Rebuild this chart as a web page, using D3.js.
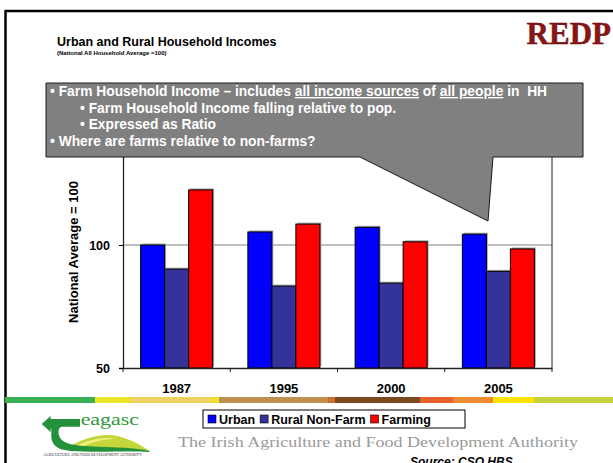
<!DOCTYPE html>
<html><head><meta charset="utf-8">
<script src="https://cdn.jsdelivr.net/npm/d3@7"></script>
<style>
html,body{margin:0;padding:0;background:#fff;overflow:hidden}
svg{display:block}
</style></head><body>
<svg id="chart" width="613" height="463"></svg>
<script>
// ── Datos ──
const categories   = ["1987", "1995", "2000", "2005"];
const seriesNames  = ["Urban", "Rural Non-Farm", "Farming"];
const urban        = [100, 105.3, 107.2, 104.4];
const ruralNonFarm = [90.2, 83.3, 84.5, 89.3];
const farming      = [122.4, 108.5, 101.3, 98.4];
const yTicks       = [50, 100];
const seriesColors = ["#0000ff", "#333399", "#ff0000"];

const SANS = "'Liberation Sans', Arial, sans-serif";
const SERIF = "'Liberation Serif', 'Times New Roman', serif";

const svg = d3.select("#chart");

// ── Marco de la diapositiva ──
svg.append("line").attr("x1", 5).attr("y1", 11).attr("x2", 613).attr("y2", 11)
  .attr("stroke", "#000").attr("stroke-width", 2.5);
svg.append("line").attr("x1", 5.5).attr("y1", 10).attr("x2", 5.5).attr("y2", 463)
  .attr("stroke", "#000").attr("stroke-width", 2.5);

// logo REDP
svg.append("text").attr("x", 611).attr("y", 44).attr("text-anchor", "end")
  .attr("font-family", SERIF).attr("font-size", 31).attr("font-weight", "bold")
  .attr("fill", "#8b1515").attr("stroke", "#5a0a0a").attr("stroke-width", 0.4)
  .text("REDP");

// títulos
svg.append("text").attr("x", 57).attr("y", 46)
  .attr("font-family", SANS).attr("font-size", 12.5).attr("font-weight", "bold")
  .text("Urban and Rural Household Incomes");
svg.append("text").attr("x", 57).attr("y", 54.5)
  .attr("font-family", SANS).attr("font-size", 6).attr("font-weight", "bold")
  .text("(National All Household Average =100)");

// ── Escalas ──
const plot = { left: 123, right: 552, top: 122, bottom: 368 };
const x = d3.scaleBand().domain(categories).range([plot.left, plot.right]);
const xs = d3.scaleBand().domain(seriesNames).range([0, x.bandwidth()]).paddingOuter(0.734);
const y = d3.scaleLinear().domain([50, 150]).range([plot.bottom, plot.top]);

const g = svg.append("g");

// línea de referencia 100
g.append("g").selectAll("line").data(yTicks.filter(t => t !== 50)).join("line")
  .attr("x1", plot.left).attr("x2", plot.right)
  .attr("y1", d => y(d)).attr("y2", d => y(d))
  .attr("stroke", "#808080").attr("stroke-width", 1);

// borde derecho del área
g.append("line").attr("x1", plot.right).attr("x2", plot.right)
  .attr("y1", plot.top).attr("y2", plot.bottom).attr("stroke", "#222").attr("stroke-width", 1);

// ── Barras ──
const rows = [];
categories.forEach((c, i) => {
  [urban[i], ruralNonFarm[i], farming[i]].forEach((v, j) => rows.push({ cat: c, s: seriesNames[j], v, color: seriesColors[j] }));
});

// sombra
g.append("g").selectAll("rect").data(rows).join("rect")
  .attr("x", d => x(d.cat) + xs(d.s) + 1.5)
  .attr("y", d => y(d.v) - 1.5)
  .attr("width", xs.bandwidth())
  .attr("height", d => plot.bottom - y(d.v))
  .attr("fill", "#a8a8a8");

g.append("g").selectAll("rect").data(rows).join("rect")
  .attr("x", d => x(d.cat) + xs(d.s))
  .attr("y", d => y(d.v))
  .attr("width", xs.bandwidth())
  .attr("height", d => plot.bottom - y(d.v))
  .attr("fill", d => d.color)
  .attr("stroke", "#000").attr("stroke-width", 1);

// ── Ejes ──
const yAxis = g.append("g").attr("transform", `translate(${plot.left},0)`)
  .call(d3.axisLeft(y).tickValues(yTicks).tickSize(4).tickPadding(9));
yAxis.select(".domain").attr("stroke", "#222").attr("stroke-width", 1.3);
yAxis.selectAll("text").attr("font-family", SANS).attr("font-size", 12.5)
  .attr("font-weight", "bold").attr("fill", "#000");

const xAxis = g.append("g").attr("transform", `translate(0,${plot.bottom})`)
  .call(d3.axisBottom(x).tickSize(0).tickPadding(16));
xAxis.select(".domain").attr("stroke", "#222").attr("stroke-width", 1.3);
xAxis.selectAll("text").attr("font-family", SANS).attr("font-size", 13)
  .attr("font-weight", "bold").attr("fill", "#000");
// marcas entre categorías
g.append("g").selectAll("line").data(categories.concat(["end"])).join("line")
  .attr("x1", (d, i) => plot.left + i * x.step()).attr("x2", (d, i) => plot.left + i * x.step())
  .attr("y1", plot.bottom).attr("y2", plot.bottom + 4)
  .attr("stroke", "#222");

svg.append("text")
  .attr("transform", `translate(78,252) rotate(-90)`)
  .attr("text-anchor", "middle")
  .attr("font-family", SANS).attr("font-size", 13).attr("font-weight", "bold")
  .text("National Average = 100");

// ── Bocadillo ──
svg.append("path")
  .attr("d", "M46,83 H583 V157 H493 L488,221 L360,157 H46 Z")
  .attr("fill", "#808080").attr("stroke", "#1a1a1a").attr("stroke-width", 1);

const callout = svg.append("g").attr("font-family", SANS).attr("font-weight", "bold")
  .attr("font-size", 13.8).attr("fill", "#fff");
const l1 = callout.append("text").attr("x", 50).attr("y", 96);
l1.append("tspan").text("• Farm Household Income – includes ");
l1.append("tspan").attr("text-decoration", "underline").text("all income sources");
l1.append("tspan").text(" of ");
l1.append("tspan").attr("text-decoration", "underline").text("all people");
l1.append("tspan").text(" in\u00a0 HH");
callout.append("text").attr("x", 80).attr("y", 112.5).text("• Farm Household Income falling relative to pop.");
callout.append("text").attr("x", 80).attr("y", 129).text("• Expressed as Ratio");
callout.append("text").attr("x", 50).attr("y", 145.5).text("• Where are farms relative to non-farms?");

// ── Franja de colores ──
const stripe = [
  [5, 95, "#3cb054"], [95, 130, "#e6e62a"], [130, 211, "#f0d060"], [211, 219, "#f0e030"],
  [219, 328, "#c09050"], [328, 335, "#d07030"], [335, 420, "#7a4a20"], [420, 453, "#e8602a"],
  [453, 493, "#f08a30"], [493, 534, "#ffe400"], [534, 613, "#c8d240"]
];
svg.append("g").selectAll("rect").data(stripe).join("rect")
  .attr("x", d => d[0]).attr("y", 397).attr("width", d => d[1] - d[0]).attr("height", 6)
  .attr("fill", d => d[2]);

// ── Leyenda ──
const leg = svg.append("g");
leg.append("rect").attr("x", 203).attr("y", 410).attr("width", 262).attr("height", 18)
  .attr("fill", "#fff").attr("stroke", "#000").attr("stroke-width", 1);
let lx = 208;
seriesNames.forEach((s, i) => {
  leg.append("rect").attr("x", lx).attr("y", 415).attr("width", 8).attr("height", 8)
    .attr("fill", seriesColors[i]).attr("stroke", "#000").attr("stroke-width", 0.6);
  const t = leg.append("text").attr("x", lx + 11).attr("y", 424)
    .attr("font-family", SANS).attr("font-size", 12.5).attr("font-weight", "bold").text(s);
  lx += 11 + t.node().getComputedTextLength() + 5;
});

// ── Pie ──
svg.append("text").attr("x", 178).attr("y", 447)
  .attr("font-family", SERIF).attr("font-size", 15).attr("fill", "#9a9a9a")
  .attr("textLength", 400).attr("lengthAdjust", "spacingAndGlyphs")
  .text("The Irish Agriculture and Food Development Authority");
svg.append("text").attr("x", 410).attr("y", 466)
  .attr("font-family", SANS).attr("font-size", 12).attr("font-weight", "bold")
  .attr("font-style", "italic").text("Source: CSO HBS");

// logo Teagasc (aproximado, dibujado a escala 3x)
const logo = svg.append("g").attr("transform", "translate(30,400) scale(0.3333)");
logo.append("path")
  .attr("d", "M110,142 C150,122 200,100 250,106 C292,112 330,134 358,152 C300,146 200,148 110,142 Z")
  .attr("fill", "#c4d63a");
logo.append("path")
  .attr("d", "M140,136 C180,118 220,110 260,116 C230,116 190,124 160,138 Z")
  .attr("fill", "#f0f080");
logo.append("path")
  .attr("d", "M35,72 L62,48 L62,57 L150,57 L150,80 L98,80 C86,80 84,92 87,106 C92,124 112,134 150,137 C220,142 300,140 358,152 L358,156 C300,152 200,158 122,153 C82,150 66,136 64,112 L64,86 L62,86 L62,96 Z")
  .attr("fill", "#23913c");
logo.append("text").attr("x", 152).attr("y", 74)
  .attr("font-family", SERIF).attr("font-size", 48).attr("fill", "#2e9a3a")
  .attr("textLength", 175).attr("lengthAdjust", "spacingAndGlyphs")
  .text("eagasc");
logo.append("text").attr("x", 40).attr("y", 167)
  .attr("font-family", SERIF).attr("font-size", 9).attr("fill", "#333")
  .attr("textLength", 295).attr("lengthAdjust", "spacingAndGlyphs")
  .text("AGRICULTURE AND FOOD DEVELOPMENT AUTHORITY");
</script>
</body></html>
